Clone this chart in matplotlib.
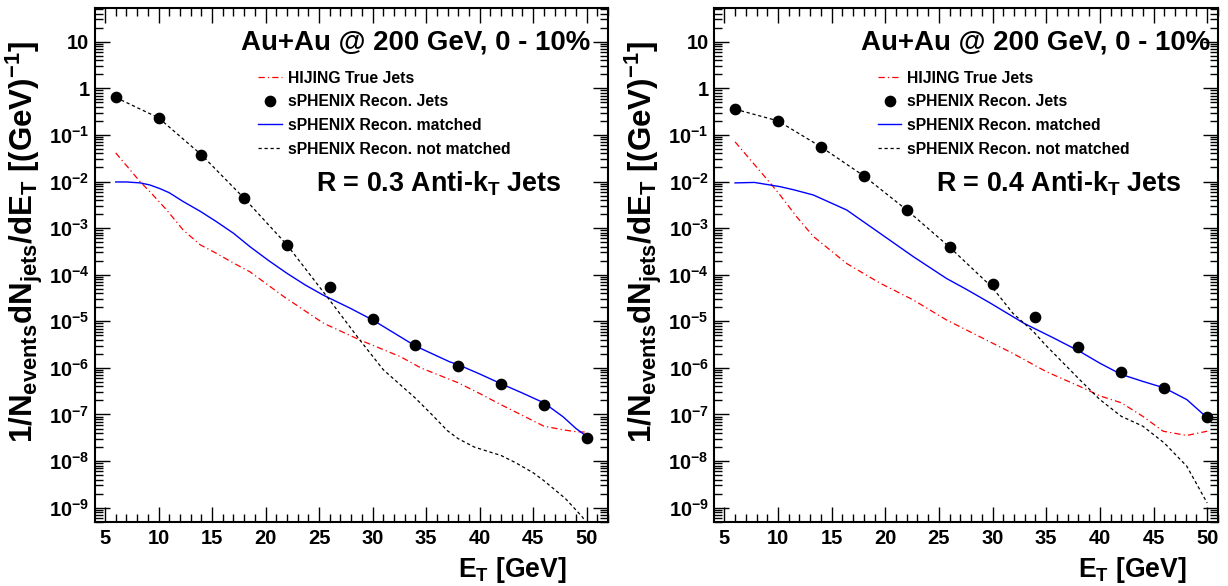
"""sPHENIX jet spectra in central Au+Au: HIJING truth vs reconstructed jets.

Two panels (R = 0.3 and R = 0.4 anti-kT), per-event jet yield vs E_T on a log
axis, ROOT-like styling. Writes out.png.
"""

import math

import matplotlib
matplotlib.use("Agg")
import matplotlib.pyplot as plt
import matplotlib.ticker as mticker
import matplotlib.transforms as mtransforms
from matplotlib.lines import Line2D

# --- values -----------------------------------------------------------------
ET_POINTS = [6, 10, 14, 18, 22, 26, 30, 34, 38, 42, 46, 50]

# R = 0.3
RECO_03 = [0.64, 0.233, 0.0376, 4.37e-3, 4.4e-4, 5.5e-5, 1.12e-5, 3.1e-6,
           1.12e-6, 4.4e-7, 1.6e-7, 3.2e-8]
MATCH_03_ET = [6, 7, 8.3, 9.2, 10.1, 11, 12.3, 13.9, 15.4, 17, 18.55, 20.3, 22,
               23.7, 25.4, 27.9, 30, 32, 34, 37.2, 38, 40, 42, 44, 46, 47.8,
               49, 50]
MATCH_03 = [9.77e-3, 9.77e-3, 9.33e-3, 8.41e-3, 7.08e-3, 5.75e-3, 3.72e-3,
            2.29e-3, 1.38e-3, 7.76e-4, 3.98e-4, 2.0e-4, 1.07e-4, 6.03e-5,
            3.63e-5, 1.91e-5, 1.07e-5, 5.62e-6, 2.95e-6, 1.35e-6, 1.17e-6,
            7.41e-7, 4.57e-7, 2.88e-7, 1.78e-7, 8.9e-8, 5.0e-8, 3.4e-8]
TRUE_03_ET = [6, 8.3, 9.2, 10.76, 12.3, 13.9, 15.4, 17, 18.55, 21.7, 25.4, 28.8,
              32.6, 34.5, 36.9, 38, 40, 42, 44, 46, 47.8, 49, 50]
TRUE_03 = [4.12e-2, 9.77e-3, 6.03e-3, 2.45e-3, 9.12e-4, 4.37e-4, 2.88e-4,
           1.78e-4, 1.15e-4, 3.39e-5, 9.12e-6, 3.98e-6, 1.74e-6, 1.0e-6,
           6.03e-7, 4.79e-7, 2.82e-7, 1.62e-7, 9.55e-8, 5.62e-8, 4.68e-8,
           4.27e-8, 4.17e-8]
UNMATCH_03_ET = [6, 10, 14, 18, 22, 26, 28.8, 31, 34, 35.4, 37, 38, 39.5, 40.9,
                 42, 43.4, 45, 46, 48, 49.6, 50.2]
UNMATCH_03 = [0.637, 0.233, 0.0376, 4.37e-3, 4.37e-4, 2.82e-5, 3.98e-6,
              9.12e-7, 2.24e-7, 1.07e-7, 4.47e-8, 3.02e-8, 2.0e-8, 1.58e-8,
              1.32e-8, 9.12e-9, 5.62e-9, 3.8e-9, 1.58e-9, 6.3e-10, 4.0e-10]

# R = 0.4
RECO_04 = [0.357, 0.20, 0.0555, 0.0132, 2.45e-3, 3.9e-4, 6.2e-5, 1.26e-5,
           2.8e-6, 8.1e-7, 3.7e-7, 8.9e-8]
MATCH_04_ET = [6, 7.8, 10.19, 11.5, 13.3, 16.4, 19.5, 22.6, 25.7, 27.6, 29.8,
               32.9, 35.7, 38.15, 40, 42, 44, 46, 48.1, 50]
MATCH_04 = [9.33e-3, 9.55e-3, 7.76e-3, 6.61e-3, 5.13e-3, 2.45e-3, 7.76e-4,
            2.45e-4, 8.32e-5, 4.79e-5, 2.45e-5, 9.12e-6, 4.37e-6, 2.24e-6,
            1.26e-6, 7.24e-7, 5.13e-7, 3.72e-7, 2.09e-7, 8.51e-8]
TRUE_04_ET = [6, 9.3, 10.19, 11.75, 13.3, 16.4, 19.5, 22.6, 25.7, 28.8, 31.9,
              35, 38.15, 40, 42, 44, 45.9, 48.1, 50]
TRUE_04 = [7.1e-2, 9.12e-3, 5.13e-3, 1.74e-3, 6.61e-4, 1.74e-4, 6.61e-5,
           2.88e-5, 1.07e-5, 4.68e-6, 2.04e-6, 8.32e-7, 3.98e-7, 2.51e-7,
           1.78e-7, 9.12e-8, 4.37e-8, 3.55e-8, 4.37e-8]
UNMATCH_04_ET = [6, 10, 14, 18, 22, 26, 30, 31.9, 33.8, 34.9, 38.15, 40, 42, 44,
                 46, 48.1, 50]
UNMATCH_04 = [0.357, 0.20, 0.0555, 0.0132, 2.45e-3, 3.9e-4, 5.25e-5, 1.48e-5,
              6.03e-6, 3.16e-6, 5.5e-7, 2.09e-7, 9.12e-8, 5.62e-8, 2.45e-8,
              7.76e-9, 1.26e-9]

LEGEND_LABELS = ["HIJING True Jets", "sPHENIX Recon. Jets",
                 "sPHENIX Recon. matched", "sPHENIX Recon. not matched"]
SYSTEM_LABEL = "Au+Au @ 200 GeV, 0 - 10%"
YLABEL = r"$1/N_{events}dN_{jets}/dE_{T}$ [(GeV)$^{-1}$]"
XLABEL = r"$E_{T}$ [GeV]"
RADII = ["0.3", "0.4"]
Y_DECADES = list(range(-9, 2))   # labelled decades, 10^-9 .. 10

# --- presentation -----------------------------------------------------------
W, H = 1228, 586
RED_DASHDOT = (0, (5, 2.5, 1, 2.5))
BLACK_DASH = (0, (2.6, 2.2))


def log_label(v, _pos):
    """ROOT-style decade labels: 10, 1, 10^-1, ..."""
    e = int(round(math.log10(v)))
    if e == 0:
        return "1"
    if e == 1:
        return "10"
    return r"$10^{%d}$" % e


def draw_panel(ax, radius, reco, match_et, match, true_et, true, un_et, un,
               xmax, ylabel_x):
    ax.plot(true_et, true, color="red", lw=0.9, ls=RED_DASHDOT)
    ax.plot(match_et, match, color="blue", lw=1.0)
    ax.plot(un_et, un, color="black", lw=0.9, ls=BLACK_DASH)
    ax.plot(ET_POINTS, reco, ls="none", marker="o", ms=7.4, color="black")

    ax.set_yscale("log")
    ax.set_xlim(4.066, xmax)
    ax.set_ylim(5.0e-10, 53.7)
    ax.set_xticks([5 * k for k in range(1, 11) if 5 * k <= xmax])
    ax.xaxis.set_minor_locator(mticker.MultipleLocator(1))
    ax.yaxis.set_major_locator(mticker.FixedLocator([10.0 ** e for e in Y_DECADES]))
    ax.yaxis.set_minor_locator(mticker.LogLocator(base=10, subs=range(2, 10),
                                                  numticks=30))
    ax.yaxis.set_major_formatter(mticker.FuncFormatter(log_label))
    ax.yaxis.set_minor_formatter(mticker.NullFormatter())
    ax.tick_params(which="both", direction="in", top=True, right=True,
                   width=1.0, labelsize=14.5)
    ax.tick_params(which="major", length=11)
    ax.tick_params(which="minor", length=5.5)
    ax.tick_params(axis="x", pad=5.5)
    ax.tick_params(axis="y", pad=4)
    for s in ax.spines.values():
        s.set_linewidth(1.5)

    ax.set_ylabel(YLABEL, fontsize=22.5, fontweight="bold", loc="top")
    ax.yaxis.set_label_coords(ylabel_x, 0.935)

    tr = mtransforms.blended_transform_factory(ax.transData, ax.transAxes)
    ax.text(50.3, 0.919, SYSTEM_LABEL, transform=tr, ha="right",
            va="baseline", fontsize=19.9)
    ax.text(24.7, 0.642, r"R = %s Anti-k$_{T}$ Jets" % radius, transform=tr,
            ha="left", va="baseline", fontsize=19.4)
    ax.text(48.1, -0.1076, XLABEL, transform=tr, ha="right",
            va="baseline", fontsize=19.1)

    handles = [Line2D([], [], color="red", lw=0.9, ls=RED_DASHDOT),
               Line2D([], [], ls="none", marker="o", ms=7.4, color="black"),
               Line2D([], [], color="blue", lw=1.0),
               Line2D([], [], color="black", lw=0.9, ls=BLACK_DASH)]
    ax.legend(handles, LEGEND_LABELS, loc="center left",
              bbox_to_anchor=(19.33, 0.794), bbox_transform=tr,
              frameon=False, prop={"size": 11.3, "weight": "bold"},
              handlelength=1.49, handletextpad=0.37, labelspacing=0.55,
              borderpad=0, borderaxespad=0, numpoints=1)


def main():
    plt.rcParams.update({
        "font.family": ["Liberation Sans", "DejaVu Sans"],
        "font.weight": "bold",
        "axes.labelweight": "bold",
        "mathtext.fontset": "custom",
        "mathtext.rm": "Liberation Sans:bold",
        "mathtext.it": "Liberation Sans:bold",
        "mathtext.bf": "Liberation Sans:bold",
        "mathtext.default": "regular",
    })
    fig = plt.figure(figsize=(W / 100, H / 100), dpi=100)
    bottom, height = (H - 521.7) / H, 514 / H
    ax1 = fig.add_axes([95 / W, bottom, 513.3 / W, height])
    ax2 = fig.add_axes([714.3 / W, bottom, 503.7 / W, height])

    draw_panel(ax1, RADII[0], RECO_03, MATCH_03_ET, MATCH_03, TRUE_03_ET,
               TRUE_03, UNMATCH_03_ET, UNMATCH_03, 52.02, -50 / 513.3)
    draw_panel(ax2, RADII[1], RECO_04, MATCH_04_ET, MATCH_04, TRUE_04_ET,
               TRUE_04, UNMATCH_04_ET, UNMATCH_04, 51.01, -50 / 503.7)

    fig.savefig("out.png", dpi=100)


if __name__ == "__main__":
    main()
